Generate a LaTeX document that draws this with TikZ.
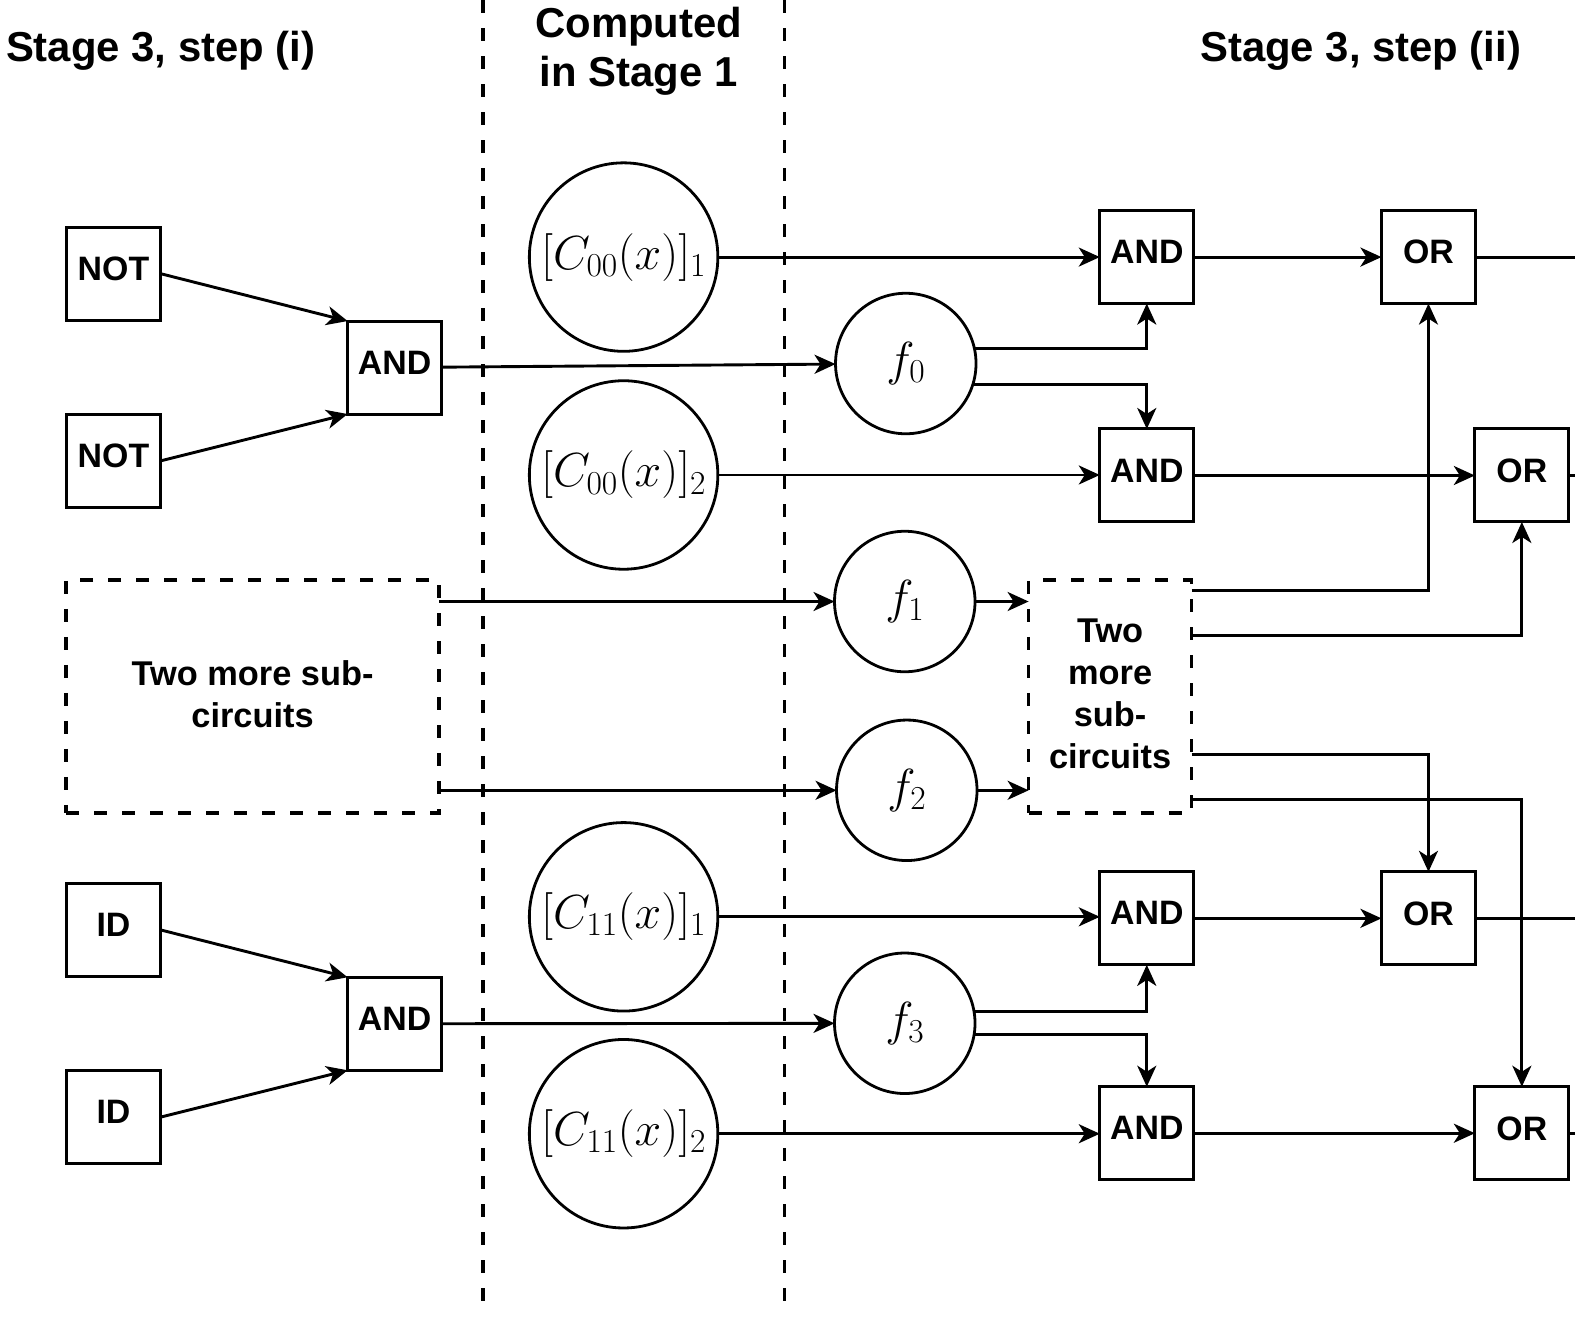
\RequirePackage{fix-cm}
\documentclass[tikz,border=0pt]{standalone}
\usepackage{fontspec}
\setsansfont{Liberation Sans}
\usetikzlibrary{arrows.meta,calc}
\begin{document}
\begin{tikzpicture}[x=1.0042bp,y=-1.0042bp,
  gate/.style={draw, line width=3bp, minimum width=94bp, minimum height=93bp, inner sep=0bp, outer sep=0bp, text depth=10bp, font=\sffamily\bfseries\fontsize{34}{40}\selectfont},
  bigc/.style={circle, draw, line width=2.8bp, minimum size=188.5bp, inner sep=0bp, outer sep=0bp, font=\fontsize{48}{54}\selectfont},
  smallc/.style={bigc, minimum size=140.5bp},
  conn/.style={line width=2.9bp, -{Stealth[length=21bp,width=19bp,inset=6bp]}},
  plain/.style={line width=2.9bp},
  dbox/.style={draw, dash pattern=on 13bp off 15bp, line width=3.2bp, inner sep=0bp, outer sep=0bp, align=center, text depth=5bp, font=\sffamily\bfseries\fontsize{34.5}{42}\selectfont},
  title/.style={font=\sffamily\bfseries\fontsize{42}{50}\selectfont, align=center, inner sep=0bp},
  vdash/.style={line width=3.4bp, dash pattern=on 13bp off 15bp}]
\useasboundingbox (0bp,0bp) rectangle (1575bp,-1319bp);

% titles
\node[title] (t1) at (160,51) {Stage 3, step (i)};
\node[title] (t2) at (636,51) {Computed\\in Stage 1};
\node[title] (t3) at (1355,51) {Stage 3, step (ii)};

% dashed separators
\draw[vdash] (481,0) -- (481,1305);
\draw[vdash] (781,0) -- (781,1305);

% left gates
\node[gate] (N1) at (113,272.5) {NOT};
\node[gate] (N2) at (113,459) {NOT};
\node[gate] (AL1) at (393,366) {AND};
\node[gate] (I1) at (113,926) {ID};
\node[gate] (I2) at (113,1112.5) {ID};
\node[gate] (AL2) at (393,1019.5) {AND};

\node[dbox, minimum width=373bp, minimum height=233bp] (LB) at (251.5,693.5) {Two more sub-\\circuits};

% circles
\node[bigc] (C1) at (621,256) {$[C_{00}(x)]_1$};
\node[bigc] (C2) at (621,473) {$[C_{00}(x)]_2$};
\node[bigc] (C3) at (621,913) {$[C_{11}(x)]_1$};
\node[bigc] (C4) at (621,1129) {$[C_{11}(x)]_2$};
\node[smallc] (F0) at (902,362) {$f_0$};
\node[smallc] (F1) at (901,599) {$f_1$};
\node[smallc] (F2) at (903,787) {$f_2$};
\node[smallc] (F3) at (901,1019) {$f_3$};

% right gates
\node[gate] (A1) at (1142,256) {AND};
\node[gate] (A2) at (1142,473.5) {AND};
\node[gate] (A3) at (1142,914.5) {AND};
\node[gate] (A4) at (1142,1128.5) {AND};
\node[gate] (O1) at (1422.5,256) {OR};
\node[gate] (O2) at (1515.5,473.5) {OR};
\node[gate] (O3) at (1422.5,914.5) {OR};
\node[gate] (O4) at (1515.5,1128.5) {OR};

\node[dbox, minimum width=163bp, minimum height=233bp] (RB) at (1105.5,693.5) {Two\\more\\sub-\\circuits};

\coordinate (E1) at (1575,256);
\coordinate (E2) at (1575,473.5);
\coordinate (E3) at (1575,914.5);
\coordinate (E4) at (1575,1128.5);

% left connections
\draw[conn] (N1.east) -- (AL1.north west);
\draw[conn] (N2.east) -- (AL1.south west);
\draw[conn] (I1.east) -- (AL2.north west);
\draw[conn] (I2.east) -- (AL2.south west);
\draw[conn] (AL1) -- (F0);
\draw[conn] (AL2) -- (F3);
\draw[conn] (LB.east |- F1) -- (F1);
\draw[conn] (LB.east |- F2) -- (F2);

% circles to right gates
\draw[conn] (C1) -- (A1);
\draw[conn] (C2.east) -- (C2.east -| A2.west);
\draw[conn] (C3.east) -- (C3.east -| A3.west);
\draw[conn] (C4.east) -- (C4.east -| A4.west);
\draw[conn] (F0.12) -| (A1.south);
\draw[conn] (F0.-17) -| (A2.north);
\draw[conn] (F3.10) -| (A3.south);
\draw[conn] (F3.-9) -| (A4.north);
\draw[conn] (F1) -- (F1 -| RB.west);
\draw[conn] (F2) -- (F2 -| RB.west);

% AND to OR
\draw[conn] (A1) -- (O1);
\draw[conn] (A2.east) -- (A2.east -| O2.west);
\draw[conn] (A3) -- (O3);
\draw[conn] (A4.east) -- (A4.east -| O4.west);

% sub-circuit box to OR
\draw[conn] ([yshift=-11bp]RB.north east) -| (O1.south);
\draw[conn] ([yshift=-56bp]RB.north east) -| (O2.south);
\draw[conn] ([yshift=58bp]RB.south east) -| (O3.north);
\draw[conn] ([yshift=13bp]RB.south east) -| (O4.north);

% outputs off the edge
\draw[plain] (O1.east) -- (E1);
\draw[plain] (O2.east) -- (E2);
\draw[plain] (O3.east) -- (E3);
\draw[plain] (O4.east) -- (E4);
\end{tikzpicture}
\end{document}
